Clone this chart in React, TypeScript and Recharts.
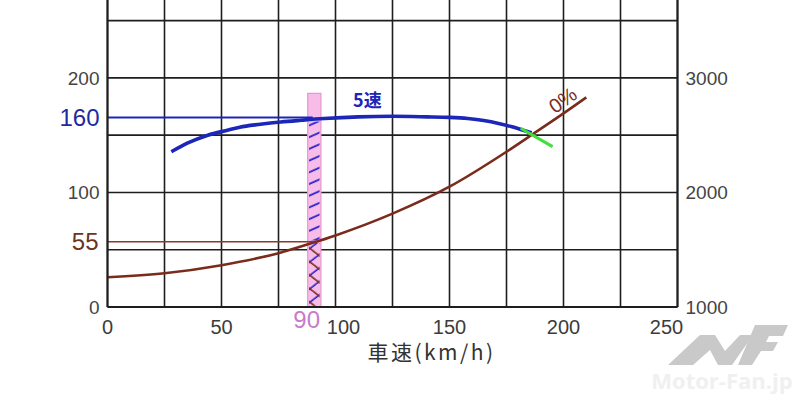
import React from "react";
import {
  CartesianGrid,
  Label,
  Line,
  LineChart,
  ReferenceArea,
  ReferenceDot,
  ReferenceLine,
  XAxis,
  YAxis,
} from "recharts";

// 5速 driving force curve
const gearSpeeds = [28, 35, 44, 53, 58, 67, 76, 85, 95, 110, 125, 140, 150, 158, 165, 172, 177, 182, 186];
const gearForce = [135.5, 143, 150, 154.5, 157, 159.5, 161.5, 163, 164.5, 166, 166.5, 166, 165.5, 164.5, 162.8, 160, 157.5, 154.5, 152];

// 0% grade running resistance
const resistSpeeds = [0, 25, 50, 75, 90, 100, 125, 150, 175, 187, 200, 210];
const resistForce = [26, 29.5, 36.5, 47, 56, 62.5, 81.5, 105, 135.5, 151.5, 169, 183];

// green marker at the top-speed crossing
const crossSpeeds = [181.2, 195.2];
const crossForce = [156, 140];

const xTicks = [0, 50, 90, 100, 150, 200, 250];
const leftTicks = [0, 100, 200];
const rightTicks = [1000, 2000, 3000];
const gridX = [0, 25, 50, 75, 100, 125, 150, 175, 200, 225, 250];
const gridY = [0, 50, 100, 150, 200, 250];

const toPoints = (xs: number[], ys: number[]) => xs.map((x, i) => ({ x, y: ys[i] }));

const gearData = toPoints(gearSpeeds, gearForce);
const resistData = toPoints(resistSpeeds, resistForce);
const crossData = toPoints(crossSpeeds, crossForce);

const NUM_FONT = "'Liberation Sans', Arial, sans-serif";
const BLUE = "#1c26b8";
const BROWN = "#7a2b1c";

const xTickShift: Record<number, number> = { 100: 8, 250: -11 };

const renderXTick = (props: any) => {
  const { x, y, payload } = props;
  if (payload.value === 90) {
    return (
      <text x={x - 6} y={y + 13} textAnchor="middle" fontSize={24} fill="#c67ccb" fontFamily={NUM_FONT}>
        90
      </text>
    );
  }
  return (
    <text
      x={x + (xTickShift[payload.value] || 0)}
      y={y + 19}
      textAnchor="middle"
      fontSize={20}
      fill="#3c3c3c"
      fontFamily={NUM_FONT}
    >
      {payload.value}
    </text>
  );
};

const App = () => {
  return (
    <div style={{ position: "relative", width: 800, height: 402, background: "#fff" }}>
      <style>{`body{margin:0;}`}</style>
      <svg width={0} height={0} style={{ position: "absolute" }}>
        <defs>
          <pattern id="hatchBlue" patternUnits="userSpaceOnUse" width="12" height="10.7" patternTransform="rotate(-24)">
            <line x1="0" y1="5" x2="12" y2="5" stroke="#2a22d0" strokeWidth="1.8" />
          </pattern>
          <pattern id="hatchBlueX" patternUnits="userSpaceOnUse" width="12" height="10.6" patternTransform="rotate(-38)">
            <line x1="0" y1="5" x2="12" y2="5" stroke="#2a22d0" strokeWidth="1.6" />
          </pattern>
          <pattern id="hatchBrownX" patternUnits="userSpaceOnUse" width="12" height="10.6" patternTransform="rotate(38)">
            <line x1="0" y1="5" x2="12" y2="5" stroke="#7a2b1c" strokeWidth="1.6" />
          </pattern>
        </defs>
      </svg>
      <LineChart width={800} height={402} margin={{ top: 0, right: 62.5, left: 47.5, bottom: 35 }}>
        <CartesianGrid
          horizontalValues={gridY}
          verticalValues={gridX}
          stroke="#1e1e1e"
          strokeWidth={1.6}
          yAxisId="left"
        />
        <XAxis
          type="number"
          dataKey="x"
          domain={[0, 250]}
          ticks={xTicks}
          allowDataOverflow
          height={60}
          tickLine={false}
          axisLine={{ stroke: "#1e1e1e", strokeWidth: 2 }}
          tick={renderXTick}
          interval={0}
        >
          <Label
            content={({ viewBox }: any) => (
              <text
                x={viewBox.x + viewBox.width / 2 + 39}
                y={viewBox.y + 53}
                textAnchor="middle"
                fontSize={21}
                letterSpacing={2.5}
                fill="#333"
                fontFamily="'Noto Sans CJK JP', sans-serif"
              >
                車速(km/h)
              </text>
            )}
          />
        </XAxis>
        <YAxis
          yAxisId="left"
          type="number"
          domain={[0, 268]}
          ticks={leftTicks}
          allowDataOverflow
          width={60}
          tickLine={false}
          axisLine={{ stroke: "#1e1e1e", strokeWidth: 2 }}
          tick={{ fontSize: 19, fill: "#444", fontFamily: NUM_FONT }}
        />
        <YAxis
          yAxisId="right"
          orientation="right"
          type="number"
          domain={[1000, 3680]}
          ticks={rightTicks}
          allowDataOverflow
          width={60}
          tickLine={false}
          axisLine={{ stroke: "#1e1e1e", strokeWidth: 2 }}
          tick={{ fontSize: 19, fill: "#444", fontFamily: NUM_FONT, textAnchor: "start" }}
        />

        <ReferenceArea
          yAxisId="left"
          x1={87.8}
          x2={93.6}
          y1={0}
          y2={186.5}
          fill="#f7bce7"
          fillOpacity={1}
          stroke="#e596d3"
          strokeWidth={1.2}
        />
        <ReferenceArea yAxisId="left" x1={88.4} x2={93} y1={58} y2={162} fill="url(#hatchBlue)" fillOpacity={1} />
        <ReferenceArea yAxisId="left" x1={88.4} x2={93} y1={1} y2={56} fill="url(#hatchBlueX)" fillOpacity={1} />
        <ReferenceArea yAxisId="left" x1={88.4} x2={93} y1={1} y2={56} fill="url(#hatchBrownX)" fillOpacity={1} />

        <ReferenceLine
          yAxisId="left"
          segment={[
            { x: 0, y: 165.4 },
            { x: 90, y: 165.4 },
          ]}
          stroke={BLUE}
          strokeWidth={2}
          label={{ value: "160", position: "left", offset: 8, fontSize: 24, fill: "#1f2aa0", fontFamily: NUM_FONT }}
        />
        <ReferenceLine
          yAxisId="left"
          segment={[
            { x: 0, y: 57 },
            { x: 90, y: 57 },
          ]}
          stroke="#8a3a2a"
          strokeWidth={1.5}
          label={{ value: "55", position: "left", offset: 9, fontSize: 24, fill: "#6e3322", fontFamily: NUM_FONT }}
        />

        <Line
          yAxisId="left"
          data={resistData}
          dataKey="y"
          type="monotone"
          stroke={BROWN}
          strokeWidth={2.6}
          dot={false}
          isAnimationActive={false}
        />
        <Line
          yAxisId="left"
          data={gearData}
          dataKey="y"
          type="monotone"
          stroke={BLUE}
          strokeWidth={3.6}
          dot={false}
          isAnimationActive={false}
        />
        <Line
          yAxisId="left"
          data={crossData}
          dataKey="y"
          type="linear"
          stroke="#3fe03a"
          strokeWidth={3}
          dot={false}
          isAnimationActive={false}
        />

        <ReferenceDot
          yAxisId="left"
          x={114}
          y={180.6}
          r={0}
          label={{ value: "5速", position: "center", fontSize: 18, fontWeight: "bold", fill: BLUE, fontFamily: "'Noto Sans CJK JP', sans-serif" }}
        />
        <ReferenceDot
          yAxisId="left"
          x={199.7}
          y={180.6}
          r={0}
          label={(props: any) => {
            const { viewBox } = props;
            const cx = viewBox.x + (viewBox.width || 0) / 2;
            const cy = viewBox.y + (viewBox.height || 0) / 2;
            return (
              <text
                x={cx}
                y={cy}
                textAnchor="middle"
                dominantBaseline="central"
                fontSize={20}
                fill={BROWN}
                fontFamily={NUM_FONT}
                transform={`rotate(-35 ${cx} ${cy})`}
              >
                0%
              </text>
            );
          }}
        />
      </LineChart>

      {/* watermark */}
      <svg width={800} height={402} style={{ position: "absolute", left: 0, top: 0, pointerEvents: "none" }}>
        <polygon
          points="668,365 700,335 715,335 725,351 740,335 753,335 732,365 718,365 710,350 693,365"
          fill="#c9c9c9"
        />
        <polygon
          points="755,325 788,325 783,336 769,336 766,342 778,342 773,351 761,351 752,365 738,365"
          fill="#c9c9c9"
        />
        <text x={722} y={389} textAnchor="middle" fontSize={22} fontWeight="bold" fill="#f0f0f0" fontFamily="'Open Sans', sans-serif">
          Motor-Fan.jp
        </text>
      </svg>
    </div>
  );
};

export default App;
